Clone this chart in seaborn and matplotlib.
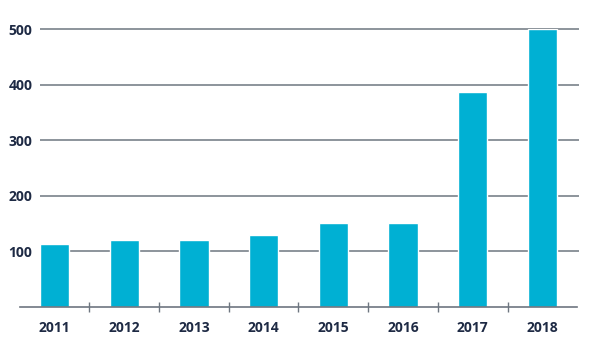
import matplotlib
matplotlib.use("Agg")
import matplotlib.pyplot as plt
import seaborn as sns
import pandas as pd

years = ["2011", "2012", "2013", "2014", "2015", "2016", "2017", "2018"]
values = [113, 120, 120, 130, 151, 151, 387, 500]
yticks = [100, 200, 300, 400, 500]

bar_color = "#00B0D3"
grid_color = "#6E7680"
text_color = "#1E2A44"

sns.set_theme(style="white")
plt.rcParams["font.family"] = ["Open Sans", "DejaVu Sans"]

df = pd.DataFrame({"year": years, "value": values})

fig = plt.figure(figsize=(5.92, 3.5), dpi=100)
W, H = 592, 350
left_px, right_px = 19.6, 577.4
zero_px, top_px = 307.0, 29.3
ax = fig.add_axes([left_px / W, (H - zero_px) / H,
                   (right_px - left_px) / W, (zero_px - top_px) / H])

sns.barplot(data=df, x="year", y="value", color=bar_color, saturation=1,
            width=0.42, ax=ax, zorder=3)

ax.set_xlim(-0.5, len(years) - 0.5)
ax.set_ylim(0, 500)

ax.hlines(yticks, -0.21, len(years) - 0.5 + 0.02, colors=grid_color,
          linewidth=1.1, zorder=1, clip_on=False)

for s in ["top", "right", "left"]:
    ax.spines[s].set_visible(False)
ax.spines["bottom"].set_color(grid_color)
ax.spines["bottom"].set_linewidth(1.2)
ax.spines["bottom"].set_zorder(4)

ax.set_xlabel("")
ax.set_ylabel("")
ax.set_yticks(yticks)
ax.set_yticklabels([str(v) for v in yticks])
ax.tick_params(axis="y", length=0, pad=-9.2, labelsize=10, labelcolor=text_color)
for lab in ax.get_yticklabels():
    lab.set_fontweight("bold")

ax.set_xticks(range(len(years)))
ax.set_xticklabels(years)
ax.tick_params(axis="x", which="major", length=0, pad=10, labelsize=10,
               labelcolor=text_color)
for lab in ax.get_xticklabels():
    lab.set_fontweight("bold")
ax.set_xticks([i + 0.5 for i in range(len(years) - 1)], minor=True)
ax.tick_params(axis="x", which="minor", direction="inout", length=7.5,
               width=1.0, color=grid_color, bottom=True)

ax.grid(False)
fig.savefig("out.png", dpi=100)
